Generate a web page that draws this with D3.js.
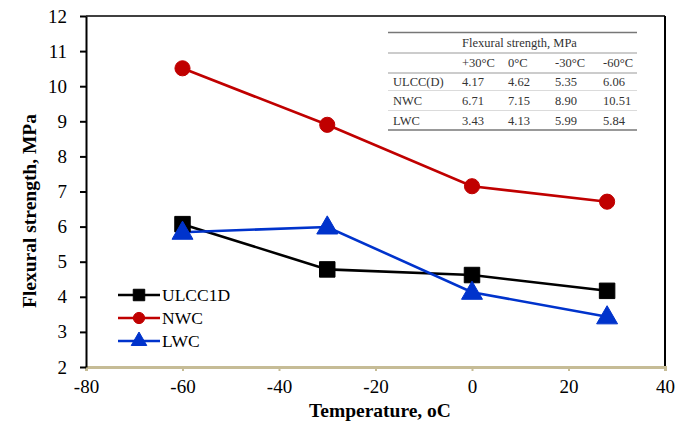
<!DOCTYPE html>
<html>
<head>
<meta charset="utf-8">
<script src="https://cdn.jsdelivr.net/npm/d3@7"></script>
<style>
  html, body { margin: 0; padding: 0; background: #fff; }
  svg { display: block; }
  svg text { font-family: "Liberation Serif", "Times New Roman", serif; }
</style>
</head>
<body>
<svg id="chart" width="688" height="422"></svg>
<script>
// Temperatures (°C) at which each mix was tested
const temperatures = [-60, -30, 0, 28];
// Flexural strength (MPa) per mix
const ulcc1d = [6.07, 4.78, 4.62, 4.17];
const nwc = [10.51, 8.90, 7.15, 6.71];
const lwc = [5.84, 5.99, 4.13, 3.43];

const seriesNames = ["ULCC1D", "NWC", "LWC"];
const xTicks = [-80, -60, -40, -20, 0, 20, 40];
const yTicks = [2, 3, 4, 5, 6, 7, 8, 9, 10, 11, 12];

// Inset table contents
const tableHeader = "Flexural strength, MPa";
const tableColumns = ["+30°C", "0°C", "-30°C", "-60°C"];
const tableRowLabels = ["ULCC(D)", "NWC", "LWC"];
const tableValues = [
  ["4.17", "4.62", "5.35", "6.06"],
  ["6.71", "7.15", "8.90", "10.51"],
  ["3.43", "4.13", "5.99", "5.84"]
];

const SERIF = '"Liberation Serif", "Times New Roman", serif';
const svg = d3.select("#chart");
const plot = { left: 86, right: 665, top: 16, bottom: 367 };

const x = d3.scaleLinear().domain([-80, 40]).range([plot.left, plot.right]);
const y = d3.scaleLinear().domain([2, 12]).range([plot.bottom, plot.top]);

// Frame: top and right borders
svg.append("line").attr("x1", plot.left).attr("x2", plot.right)
  .attr("y1", plot.top).attr("y2", plot.top)
  .attr("stroke", "#000").attr("stroke-width", 1.5);
svg.append("line").attr("x1", plot.right).attr("x2", plot.right)
  .attr("y1", plot.top).attr("y2", plot.bottom)
  .attr("stroke", "#000").attr("stroke-width", 2);

// X axis (tan)
const xAxis = svg.append("g")
  .attr("transform", `translate(0,${plot.bottom})`)
  .call(d3.axisBottom(x).tickValues(xTicks).tickSize(4).tickPadding(9).tickFormat(d => String(d)));
xAxis.attr("font-family", null);
xAxis.select(".domain").attr("stroke", "#c6bc96").attr("stroke-width", 3);
xAxis.selectAll(".tick line").attr("stroke", "#c6bc96").attr("stroke-width", 2);
xAxis.selectAll(".tick text")
  .style("font-family", SERIF).style("font-size", "19px").attr("fill", "#000");

// Y axis
const yAxis = svg.append("g")
  .attr("transform", `translate(${plot.left},0)`)
  .call(d3.axisLeft(y).tickValues(yTicks).tickSize(6).tickSizeOuter(0).tickPadding(13).tickFormat(d => String(d)));
yAxis.attr("font-family", null);
yAxis.select(".domain").attr("stroke", "#000").attr("stroke-width", 2);
yAxis.selectAll(".tick line").attr("stroke", "#000").attr("stroke-width", 2);
yAxis.selectAll(".tick text")
  .style("font-family", SERIF).style("font-size", "19px").attr("fill", "#000");

// Axis titles
svg.append("text")
  .attr("x", 380).attr("y", 417)
  .attr("text-anchor", "middle")
  .style("font-family", SERIF).style("font-weight", "bold").style("font-size", "19.5px")
  .text("Temperature, oC");
svg.append("text")
  .attr("transform", "translate(36,211) rotate(-90)")
  .attr("text-anchor", "middle")
  .style("font-family", SERIF).style("font-weight", "bold").style("font-size", "19.5px")
  .text("Flexural strength, MPa");

// Series
const series = [
  { name: seriesNames[0], values: ulcc1d, color: "#000000", marker: d3.symbolSquare, size: 240 },
  { name: seriesNames[1], values: nwc, color: "#c00000", marker: d3.symbolCircle, size: 180 },
  { name: seriesNames[2], values: lwc, color: "#0033cc", marker: d3.symbolTriangle, size: 190 }
];

const line = d3.line().x(d => x(d[0])).y(d => y(d[1]));

series.forEach(s => {
  const pts = temperatures.map((t, i) => [t, s.values[i]]);
  svg.append("path").datum(pts)
    .attr("d", line).attr("fill", "none")
    .attr("stroke", s.color).attr("stroke-width", 2.6);
});
series.forEach(s => {
  const pts = temperatures.map((t, i) => [t, s.values[i]]);
  svg.selectAll(null).data(pts).enter().append("path")
    .attr("transform", d => `translate(${x(d[0])},${y(d[1]) + (s.marker === d3.symbolTriangle ? 1 : 0)})`)
    .attr("d", d3.symbol().type(s.marker).size(s.size))
    .attr("fill", s.color).attr("stroke", s.color).attr("stroke-width", 1)
    .attr("stroke-linejoin", "round");
});

// Legend
const legend = svg.append("g").attr("transform", "translate(118,295)");
series.forEach((s, i) => {
  const g = legend.append("g").attr("transform", `translate(0,${i * 23})`);
  g.append("line").attr("x1", 0).attr("x2", 42).attr("y1", 0).attr("y2", 0)
    .attr("stroke", s.color).attr("stroke-width", 2.6);
  g.append("path").attr("transform", "translate(21,0)")
    .attr("d", d3.symbol().type(s.marker).size(s.size * 0.55))
    .attr("fill", s.color).attr("stroke", s.color).attr("stroke-linejoin", "round");
  g.append("text").attr("x", 44).attr("y", 6)
    .style("font-family", SERIF).style("font-size", "17.5px").text(s.name);
});

// Inset table
const tbl = svg.append("g").attr("fill", "#333");
const tLeft = 388, tRight = 637;
const colX = [393, 462, 508, 555, 603];
const hLines = [
  { y: 32.5, w: 1.3, c: "#777" },
  { y: 53, w: 1.1, c: "#999" },
  { y: 73, w: 1.1, c: "#999" },
  { y: 90.5, w: 0.7, c: "#ccc" },
  { y: 110.5, w: 0.7, c: "#ccc" },
  { y: 130, w: 1.3, c: "#777" }
];
hLines.forEach(l => {
  tbl.append("line").attr("x1", tLeft).attr("x2", tRight).attr("y1", l.y).attr("y2", l.y)
    .attr("stroke", l.c).attr("stroke-width", l.w);
});
const cell = (xx, yy, txt) => tbl.append("text").attr("x", xx).attr("y", yy)
  .style("font-family", SERIF).style("font-size", "12.5px").text(txt);
cell(colX[1], 47, tableHeader);
tableColumns.forEach((c, j) => cell(colX[j + 1], 67, c));
tableRowLabels.forEach((r, i) => {
  const yy = 85.5 + i * 19.8;
  cell(colX[0], yy, r);
  tableValues[i].forEach((v, j) => cell(colX[j + 1], yy, v));
});
</script>
</body>
</html>
